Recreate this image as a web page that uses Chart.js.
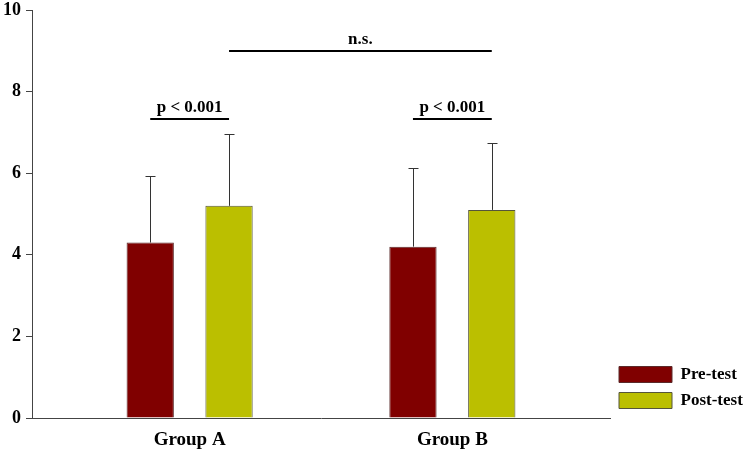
<!DOCTYPE html>
<html>
<head>
<meta charset="utf-8">
<script src="https://cdn.jsdelivr.net/npm/chart.js@4"></script>
<style>
  html, body { margin: 0; padding: 0; background: #fff; }
  #wrap { width: 746px; height: 455px; }
</style>
</head>
<body>
<div id="wrap"><canvas id="chart"></canvas></div>
<script>
// values
const groups = ['Group A', 'Group B'];
const preTest = [4.3, 4.2];
const postTest = [5.2, 5.1];
const preSD = [1.63, 1.92];
const postSD = [1.75, 1.63];
const yTicks = [0, 2, 4, 6, 8, 10];

// significance brackets: [dataset, index] -> [dataset, index], height in y units
const sigLabels = ['p < 0.001', 'p < 0.001', 'n.s.'];
const sigFrom = [[0, 0], [0, 1], [1, 0]];
const sigTo = [[1, 0], [1, 1], [1, 1]];
const sigLevel = [7.33, 7.33, 9.0];

const serif = "'Liberation Serif', 'Times New Roman', serif";
const errors = [preSD, postSD];

// upper error whiskers with caps
const errorBars = {
    id: 'errorBars',
    afterDatasetsDraw(chart) {
        const ctx = chart.ctx;
        const y = chart.scales.y;
        ctx.save();
        ctx.strokeStyle = '#333';
        ctx.lineWidth = 1;
        chart.data.datasets.forEach((ds, di) => {
            chart.getDatasetMeta(di).data.forEach((bar, i) => {
                const top = y.getPixelForValue(ds.data[i].y + errors[di][i]);
                const x = Math.round(bar.x) + 0.5;
                ctx.beginPath();
                ctx.moveTo(x, bar.y);
                ctx.lineTo(x, top);
                ctx.moveTo(x - 5, Math.round(top) + 0.5);
                ctx.lineTo(x + 5, Math.round(top) + 0.5);
                ctx.stroke();
            });
        });
        ctx.restore();
    }
};

const sigMarks = {
    id: 'sigMarks',
    afterDatasetsDraw(chart) {
        const ctx = chart.ctx;
        const y = chart.scales.y;
        ctx.save();
        ctx.strokeStyle = '#000';
        ctx.fillStyle = '#000';
        ctx.lineWidth = 2;
        ctx.font = 'bold 17px ' + serif;
        ctx.textAlign = 'center';
        ctx.textBaseline = 'alphabetic';
        sigLabels.forEach((txt, k) => {
            const a = chart.getDatasetMeta(sigFrom[k][0]).data[sigFrom[k][1]];
            const b = chart.getDatasetMeta(sigTo[k][0]).data[sigTo[k][1]];
            const py = Math.round(y.getPixelForValue(sigLevel[k]));
            ctx.beginPath();
            ctx.moveTo(a.x, py);
            ctx.lineTo(b.x, py);
            ctx.stroke();
            ctx.fillText(txt, (a.x + b.x) / 2, py - 7);
        });
        ctx.restore();
    }
};

// keep the legend narrow so the plot reaches further right
const legendWidth = {
    id: 'legendWidth',
    afterInit(chart) {
        const lg = chart.legend;
        const fit = lg.fit;
        lg.fit = function () {
            fit.call(this);
            this.width = 136;
        };
    }
};

new Chart(document.getElementById('chart'), {
    type: 'bar',
    data: {
        datasets: [{
            label: 'Pre-test',
            data: groups.map((g, i) => ({ x: i, y: preTest[i] })),
            backgroundColor: '#800000',
            borderColor: '#5a2a2a',
            borderWidth: 1,
            categoryPercentage: 0.6,
            barPercentage: 0.6
        }, {
            label: 'Post-test',
            data: groups.map((g, i) => ({ x: i, y: postTest[i] })),
            backgroundColor: '#bbbf00',
            borderColor: '#55553a',
            borderWidth: 1,
            categoryPercentage: 0.6,
            barPercentage: 0.6
        }]
    },
    options: {
        responsive: true,
        maintainAspectRatio: false,
        animation: false,
        layout: { padding: 0 },
        plugins: {
            tooltip: { enabled: false },
            legend: {
                position: 'right',
                align: 'end',
                fullSize: false,
                labels: {
                    boxWidth: 53,
                    boxHeight: 16,
                    padding: 9,
                    color: '#000',
                    font: { family: serif, size: 17, weight: 'bold' }
                }
            }
        },
        scales: {
            x: {
                type: 'linear',
                min: -0.6,
                max: 1.6,
                offset: false,
                afterBuildTicks: s => { s.ticks = groups.map((g, i) => ({ value: i })); },
                afterFit: s => { s.height = 37; },
                grid: { display: true, drawOnChartArea: false, drawTicks: false },
                border: { color: '#444', width: 1 },
                ticks: {
                    padding: 11,
                    color: '#000',
                    font: { family: serif, size: 19, weight: 'bold' },
                    callback: v => groups[v]
                }
            },
            y: {
                min: 0,
                max: 10,
                afterBuildTicks: s => { s.ticks = yTicks.map(v => ({ value: v })); },
                afterFit: s => { s.width = 32; s.paddingTop = 10; s.paddingBottom = 0; },
                grid: { drawOnChartArea: false, tickLength: 6, color: '#444' },
                border: { color: '#444', width: 1 },
                ticks: {
                    padding: 5,
                    color: '#000',
                    font: { family: serif, size: 18, weight: 'bold' }
                }
            }
        }
    },
    plugins: [errorBars, sigMarks, legendWidth]
});
</script>
</body>
</html>
